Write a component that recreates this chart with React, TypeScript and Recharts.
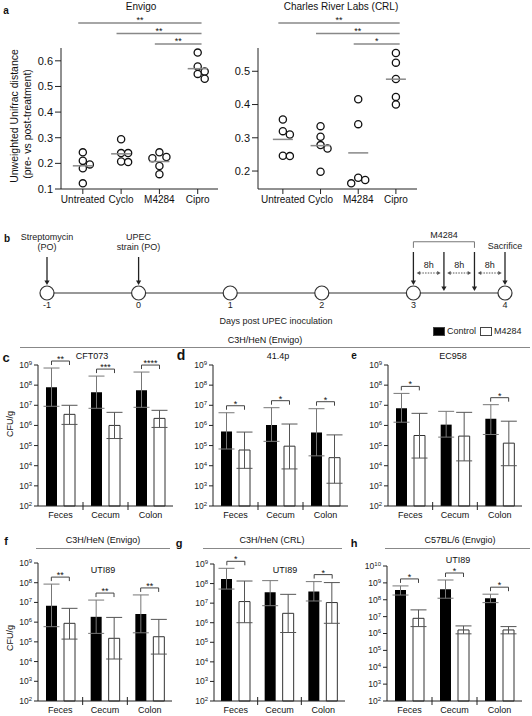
import React from "react";
import {
  ScatterChart, Scatter, XAxis, YAxis, ReferenceLine,
  ComposedChart, Bar, ErrorBar, Line, Legend,
} from "recharts";

const FONT = '"Liberation Sans", Arial, sans-serif';

// ---- a: unweighted Unifrac distance (pre vs post treatment), 5 mice per group
const treatments = ["Untreated", "Cyclo", "M4284", "Cipro"];
const envigoUntreated = [0.243, 0.21, 0.196, 0.181, 0.122];
const envigoCyclo = [0.294, 0.24, 0.24, 0.207, 0.205];
const envigoM4284 = [0.243, 0.225, 0.22, 0.19, 0.158];
const envigoCipro = [0.632, 0.578, 0.558, 0.549, 0.53];
const crlUntreated = [0.355, 0.32, 0.31, 0.246, 0.245];
const crlCyclo = [0.335, 0.303, 0.278, 0.268, 0.198];
const crlM4284 = [0.416, 0.341, 0.18, 0.173, 0.163];
const crlCipro = [0.555, 0.526, 0.477, 0.423, 0.4];
const envigoTicks = [0.1, 0.2, 0.3, 0.4, 0.5, 0.6];
const crlTicks = [0.2, 0.3, 0.4, 0.5];
// Untreated / Cyclo / M4284 vs Cipro
const envigoStars = ["**", "**", "**"];
const crlStars = ["**", "**", "*"];

// ---- b: timeline
const days = [-1, 0, 1, 2, 3, 4];
const doseDays = [3, 3 + 8 / 24, 3 + 16 / 24];
const sacrificeDay = 4;

// ---- c-h: log10 CFU/g, bar = mean, lo/hi = error bar ends
const sites = ["Feces", "Cecum", "Colon"];

const cftCtrl = [7.9, 7.65, 7.75];
const cftCtrlLo = [6.95, 6.85, 6.9];
const cftCtrlHi = [8.85, 8.45, 8.65];
const cftM = [6.55, 6.0, 6.35];
const cftMLo = [6.05, 5.35, 5.9];
const cftMHi = [7.0, 6.65, 6.75];
const cftSig = ["**", "***", "****"];

const p41Ctrl = [5.7, 6.02, 5.65];
const p41CtrlLo = [4.83, 5.21, 4.49];
const p41CtrlHi = [6.63, 6.88, 6.83];
const p41M = [4.78, 4.97, 4.4];
const p41MLo = [3.87, 3.84, 3.13];
const p41MHi = [5.67, 6.07, 5.53];
const p41Sig = ["*", "*", "*"];

const ecCtrl = [6.85, 6.04, 6.33];
const ecCtrlLo = [6.16, 5.42, 5.55];
const ecCtrlHi = [7.59, 6.7, 7.03];
const ecM = [5.5, 5.47, 5.12];
const ecMLo = [4.38, 4.24, 4.0];
const ecMHi = [6.6, 6.65, 6.21];
const ecSig = ["*", "", "*"];

const utiEnvCtrl = [6.83, 6.27, 6.41];
const utiEnvCtrlLo = [5.77, 5.43, 5.46];
const utiEnvCtrlHi = [7.93, 7.12, 7.38];
const utiEnvM = [5.94, 5.18, 5.26];
const utiEnvMLo = [5.14, 4.13, 4.38];
const utiEnvMHi = [6.7, 6.24, 6.14];
const utiEnvSig = ["**", "**", "**"];

const utiCrlCtrl = [8.23, 7.56, 7.59];
const utiCrlCtrlLo = [7.72, 6.87, 7.11];
const utiCrlCtrlHi = [8.78, 8.15, 8.1];
const utiCrlM = [7.08, 6.48, 7.03];
const utiCrlMLo = [6.0, 5.5, 5.97];
const utiCrlMHi = [8.13, 7.45, 8.05];
const utiCrlSig = ["*", "", "*"];

const utiB6Ctrl = [8.58, 8.62, 8.09];
const utiB6CtrlLo = [8.28, 8.09, 7.83];
const utiB6CtrlHi = [8.82, 9.17, 8.33];
const utiB6M = [6.9, 6.21, 6.21];
const utiB6MLo = [6.41, 5.98, 5.98];
const utiB6MHi = [7.4, 6.45, 6.41];
const utiB6Sig = ["*", "*", "*"];

// ---------- helpers
const Txt = ({ x, y, size = 9, bold = false, rotate = 0, children }: any) => (
  <div
    style={{
      position: "absolute", left: x, top: y, fontSize: size, lineHeight: 1,
      fontWeight: bold ? 700 : 400, whiteSpace: "nowrap", color: "#111",
      transform: `translate(-50%, -50%) rotate(${rotate}deg)`,
    }}
  >
    {children}
  </div>
);

const HLine = ({ x1, x2, y }: any) => (
  <div style={{ position: "absolute", left: x1, top: y, width: x2 - x1, height: 1, background: "#888" }} />
);

const mean = (v: number[]) => v.reduce((a, b) => a + b, 0) / v.length;

// simple beeswarm: push a point sideways when it would overlap one already placed
function swarm(values: number[], pxX: number, pxY: number) {
  const placed: { dx: number; v: number }[] = [];
  return values.map((v) => {
    for (const c of [0, 1, -1, 2, -2, 3]) {
      const dx = (c * 7) / pxX;
      const ok = placed.every((p) => Math.hypot((p.dx - dx) * pxX, (p.v - v) * pxY) >= 7);
      if (ok) {
        placed.push({ dx, v });
        return dx;
      }
    }
    return 0;
  });
}

const OpenDot = (p: any) => (
  <circle cx={p.cx} cy={p.cy} r={3.6} fill="#fff" stroke="#111" strokeWidth={1.3} />
);
const MeanBar = (p: any) => (
  <line x1={p.cx - 10} x2={p.cx + 10} y1={p.cy} y2={p.cy} stroke="#888" strokeWidth={1.5} />
);

function DotPanel({ left, width, marginLeft, groups, yDomain, yTicks, xDomain, stars }: any) {
  const height = 209;
  const plotW = width - marginLeft - 26 - 8;
  const plotH = height - 48 - 20;
  const pxX = plotW / (xDomain[1] - xDomain[0]);
  const pxY = plotH / (yDomain[1] - yDomain[0]);
  const points = groups.flatMap((vals: number[], g: number) =>
    swarm(vals, pxX, pxY).map((dx, i) => ({ x: g + 1 + dx, y: vals[i] }))
  );
  const means = groups.map((vals: number[], g: number) => ({ x: g + 1, y: mean(vals) }));
  return (
    <div style={{ position: "absolute", left, top: 0 }}>
      <ScatterChart width={width} height={height} margin={{ top: 48, right: 8, left: marginLeft, bottom: 0 }}>
        <XAxis
          type="number" dataKey="x" domain={xDomain} ticks={[1, 2, 3, 4]} interval={0}
          tickFormatter={(v: number) => treatments[v - 1]} height={20} tickSize={5} tickMargin={2}
          allowDataOverflow stroke="#222" tick={{ fontSize: 10, fill: "#111" }}
        />
        <YAxis
          type="number" dataKey="y" domain={yDomain} ticks={yTicks} interval={0}
          tickFormatter={(v: number) => v.toFixed(1)} width={26} tickSize={6} tickMargin={2}
          allowDataOverflow stroke="#222" tick={{ fontSize: 11, fill: "#111" }}
        />
        <Scatter data={points} shape={OpenDot} isAnimationActive={false} />
        <Scatter data={means} shape={MeanBar} isAnimationActive={false} />
        {stars.map((s: string, k: number) => {
          const y = yDomain[1] + (4 + (stars.length - 1 - k) * 10.5) / pxY;
          return (
            <ReferenceLine
              key={k}
              segment={[{ x: k + 1 - 0.12, y }, { x: 4.1, y }]}
              stroke="#888" strokeWidth={1.3} ifOverflow="visible"
              label={{ value: s, position: "top", offset: 0, fontSize: 9, fill: "#111" }}
            />
          );
        })}
      </ScatterChart>
    </div>
  );
}

// ---------- timeline
const timelineLine = days.map((d) => ({ day: d, y: 0 }));
const timelineEvents = [
  { day: -1, y: 0, text: ["Streptomycin", "(PO)"] },
  { day: 0, y: 0, text: ["UPEC", "strain (PO)"] },
  ...doseDays.map((d) => ({ day: d, y: 0, text: [] as string[] })),
  { day: sacrificeDay, y: 0, text: ["Sacrifice"] },
];
const marks = [...doseDays, sacrificeDay];
const intervals = marks.slice(1).map((d, i) => ({
  day: (d + marks[i]) / 2, y: 0, hours: Math.round((d - marks[i]) * 24),
}));

const NodeDot = (p: any) => (
  <circle key={p.index} cx={p.cx} cy={p.cy} r={7} fill="#fff" stroke="#333" strokeWidth={1.2} />
);

const ArrowMark = (p: any) => {
  const { cx, cy, payload } = p;
  const onNode = days.includes(payload.day);
  const tall = payload.text.length === 2;
  const top = cy - (tall ? 36 : 41);
  const end = cy - (onNode ? 8 : 2);
  return (
    <g>
      <line x1={cx} x2={cx} y1={top} y2={end - 4} stroke="#222" strokeWidth={1.3} />
      <path d={`M${cx - 2.6},${end - 4.5}L${cx + 2.6},${end - 4.5}L${cx},${end}Z`} fill="#222" />
      {payload.text.map((t: string, i: number) => (
        <text key={i} x={cx} y={tall ? top - 17 + i * 10 : top - 3} textAnchor="middle" fontSize={9} fill="#222">
          {t}
        </text>
      ))}
    </g>
  );
};

const IntervalMark = (p: any) => {
  const { cx, cy, payload } = p;
  const y = cy - 20;
  return (
    <g>
      <text x={cx} y={cy - 25} textAnchor="middle" fontSize={9} fill="#222">{`${payload.hours}h`}</text>
      <line x1={cx - 9} x2={cx + 9} y1={y} y2={y} stroke="#555" strokeDasharray="1.5 1.2" />
      <path d={`M${cx - 12},${y}l3.5,-2v4z M${cx + 12},${y}l-3.5,-2v4z`} fill="#555" />
    </g>
  );
};

function Timeline() {
  return (
    <div style={{ position: "absolute", left: 0, top: 225 }}>
      <ComposedChart width={532} height={112} data={timelineLine} margin={{ top: 7, right: 27, left: 47, bottom: 0 }}>
        <XAxis
          type="number" dataKey="day" domain={[-1, 4]} ticks={days} interval={0} height={44}
          axisLine={false} tickLine={false} tickMargin={3} tick={{ fontSize: 9, fill: "#222" }}
          label={{ value: "Days post UPEC inoculation", position: "insideBottom", offset: 13, fontSize: 9, fill: "#222" }}
        />
        <YAxis type="number" domain={[0, 1]} hide />
        <Line dataKey="y" stroke="#333" strokeWidth={1.2} dot={NodeDot} activeDot={false} isAnimationActive={false} />
        <Scatter data={timelineEvents} dataKey="y" shape={ArrowMark} isAnimationActive={false} />
        <Scatter data={intervals} dataKey="y" shape={IntervalMark} isAnimationActive={false} />
        <ReferenceLine
          segment={[{ x: doseDays[0], y: 0.84 }, { x: doseDays[2], y: 0.84 }]}
          stroke="#777" ifOverflow="visible"
          label={{ value: "M4284", position: "top", offset: 4, fontSize: 9, fill: "#222" }}
        />
        <ReferenceLine segment={[{ x: doseDays[0], y: 0.74 }, { x: doseDays[0], y: 0.84 }]} stroke="#777" ifOverflow="visible" />
        <ReferenceLine segment={[{ x: doseDays[2], y: 0.74 }, { x: doseDays[2], y: 0.84 }]} stroke="#777" ifOverflow="visible" />
      </ComposedChart>
    </div>
  );
}

// ---------- bar panels
function siteRows(ctrl: number[], ctrlLo: number[], ctrlHi: number[], m: number[], mLo: number[], mHi: number[], sig: string[]) {
  return sites.map((site, i) => ({
    site,
    control: ctrl[i],
    controlErr: [ctrl[i] - ctrlLo[i], ctrlHi[i] - ctrl[i]],
    m4284: m[i],
    m4284Err: [m[i] - mLo[i], mHi[i] - m[i]],
    sig: sig[i],
    sigAt: sig[i] ? Math.max(ctrlHi[i], mHi[i]) : null,
  }));
}

const PowerTick = (p: any) => (
  <text x={p.x} y={p.y} textAnchor="end" fontSize={8.5} fill="#222">
    <tspan dy="0.35em">10</tspan>
    <tspan dy="-0.5em" fontSize={6}>{p.payload.value}</tspan>
  </text>
);

const makeSiteTick = (band: number) => (p: any) => (
  <g>
    <text x={p.x} y={p.y + 12} textAnchor="middle" fontSize={9} fill="#111">{p.payload.value}</text>
    {p.index < 2 && <line x1={p.x + band / 2} x2={p.x + band / 2} y1={p.y - 4} y2={p.y + 4} stroke="#222" />}
  </g>
);

const SigBracket = (p: any) => {
  if (!p.payload || !p.payload.sig || !Number.isFinite(p.cy)) return <g />;
  const y = p.cy - 7;
  return (
    <g>
      <path d={`M${p.cx - 9},${y + 4}V${y}H${p.cx + 9}V${y + 4}`} fill="none" stroke="#444" strokeWidth={1} />
      <text x={p.cx} y={y + 1} textAnchor="middle" fontSize={9} fill="#111">{p.payload.sig}</text>
    </g>
  );
};

const LegendContent = (p: any) => (
  <div style={{ display: "flex", alignItems: "center", fontSize: 9, color: "#222", whiteSpace: "nowrap" }}>
    {(p.payload || [])
      .filter((e: any) => e.type !== "none")
      .map((e: any) => (
        <span key={e.value} style={{ display: "flex", alignItems: "center", marginRight: 4 }}>
          <span
            style={{
              display: "inline-block", width: 10, height: 7, marginRight: 2,
              background: e.payload?.fill ?? e.color, border: "1px solid #444",
            }}
          />
          {e.value}
        </span>
      ))}
  </div>
);

function BarPanel({ plot, maxExp = 9, rows, legend = false }: any) {
  const [x0, x1, y0, y1] = plot;
  const left = x0 - 38;
  const top = y0 - 15;
  const width = x1 - left + 7;
  const height = y1 - top + 19;
  const ticks = Array.from({ length: maxExp - 1 }, (_, i) => i + 2);
  return (
    <div style={{ position: "absolute", left, top }}>
      <ComposedChart
        width={width} height={height} data={rows} barSize={11} barGap={7}
        margin={{ top: 15, right: 7, left: 8, bottom: 0 }}
      >
        <XAxis
          dataKey="site" height={19} stroke="#222" tickLine={false} tickSize={0} tickMargin={0}
          interval={0} tick={makeSiteTick((x1 - x0) / 3)}
        />
        <YAxis
          type="number" domain={[2, maxExp]} ticks={ticks} interval={0}
          width={30} tickSize={4} tickMargin={2} stroke="#222" tick={PowerTick}
        />
        <Bar dataKey="control" name="Control" fill="#000" isAnimationActive={false}>
          <ErrorBar dataKey="controlErr" width={8} stroke="#777" strokeWidth={1} />
        </Bar>
        <Bar dataKey="m4284" name="M4284" fill="#fff" stroke="#333" strokeWidth={1} isAnimationActive={false}>
          <ErrorBar dataKey="m4284Err" width={8} stroke="#555" strokeWidth={1} />
        </Bar>
        <Scatter dataKey="sigAt" shape={SigBracket} legendType="none" isAnimationActive={false} />
        {legend && (
          <Legend
            layout="horizontal" verticalAlign="middle" align="center"
            wrapperStyle={{ top: -24, left: 83, width: 100 }}
            content={LegendContent}
          />
        )}
      </ComposedChart>
    </div>
  );
}

export default function App() {
  return (
    <div
      style={{
        position: "absolute", left: 0, top: 0, width: 532, height: 716,
        background: "#fff", overflow: "hidden", fontFamily: FONT, color: "#111",
      }}
    >
      {/* a */}
      <Txt x={6} y={11} size={10} bold>a</Txt>
      <Txt x={141} y={7} size={10}>Envigo</Txt>
      <Txt x={341} y={7} size={10}>Charles River Labs (CRL)</Txt>
      <Txt x={14} y={116} size={10.5} rotate={-90}>Unweighted Unifrac distance</Txt>
      <Txt x={27} y={124} size={10.5} rotate={-90}>(pre- vs post-treatment)</Txt>
      <DotPanel
        left={0} width={226} marginLeft={35}
        groups={[envigoUntreated, envigoCyclo, envigoM4284, envigoCipro]}
        yDomain={[0.1, 0.65]} yTicks={envigoTicks} xDomain={[0.43, 4.53]} stars={envigoStars}
      />
      <DotPanel
        left={232} width={193} marginLeft={0}
        groups={[crlUntreated, crlCyclo, crlM4284, crlCipro]}
        yDomain={[0.146, 0.57]} yTicks={crlTicks} xDomain={[0.34, 4.56]} stars={crlStars}
      />

      {/* b */}
      <Txt x={7} y={239} size={10} bold>b</Txt>
      <Timeline />

      {/* c-e */}
      <Txt x={265} y={340} size={9}>C3H/HeN (Envigo)</Txt>
      <HLine x1={20} x2={530} y={347} />
      <Txt x={6} y={357} size={13} bold>c</Txt>
      <Txt x={181} y={355} size={14} bold>d</Txt>
      <Txt x={354} y={356} size={10} bold>e</Txt>
      <Txt x={92} y={356} size={9}>CFT073</Txt>
      <Txt x={278} y={356} size={9}>41.4p</Txt>
      <Txt x={453} y={356} size={9}>EC958</Txt>
      <Txt x={10} y={424} size={9} rotate={-90}>CFU/g</Txt>
      <BarPanel plot={[38, 173, 365, 506]} rows={siteRows(cftCtrl, cftCtrlLo, cftCtrlHi, cftM, cftMLo, cftMHi, cftSig)} />
      <BarPanel plot={[213, 348, 365, 506]} rows={siteRows(p41Ctrl, p41CtrlLo, p41CtrlHi, p41M, p41MLo, p41MHi, p41Sig)} />
      <BarPanel plot={[388, 522, 365, 506]} rows={siteRows(ecCtrl, ecCtrlLo, ecCtrlHi, ecM, ecMLo, ecMHi, ecSig)} legend />

      {/* f-h */}
      <Txt x={6} y={541} size={11} bold>f</Txt>
      <Txt x={179} y={543} size={11} bold>g</Txt>
      <Txt x={354} y={543} size={11} bold>h</Txt>
      <Txt x={103} y={540} size={9}>C3H/HeN (Envigo)</Txt>
      <HLine x1={36} x2={170} y={548} />
      <Txt x={272} y={540} size={9}>C3H/HeN (CRL)</Txt>
      <HLine x1={203} x2={342} y={548} />
      <Txt x={460} y={540} size={9}>C57BL/6 (Envgio)</Txt>
      <HLine x1={385} x2={530} y={548} />
      <Txt x={103} y={570} size={9}>UTI89</Txt>
      <Txt x={285} y={570} size={9}>UTI89</Txt>
      <Txt x={458} y={560} size={9}>UTI89</Txt>
      <Txt x={10} y={638} size={9} rotate={-90}>CFU/g</Txt>
      <BarPanel plot={[38, 172, 563, 701]} rows={siteRows(utiEnvCtrl, utiEnvCtrlLo, utiEnvCtrlHi, utiEnvM, utiEnvMLo, utiEnvMHi, utiEnvSig)} />
      <BarPanel plot={[214, 345, 564, 701]} rows={siteRows(utiCrlCtrl, utiCrlCtrlLo, utiCrlCtrlHi, utiCrlM, utiCrlMLo, utiCrlMHi, utiCrlSig)} />
      <BarPanel plot={[387, 522, 566, 701]} maxExp={10} rows={siteRows(utiB6Ctrl, utiB6CtrlLo, utiB6CtrlHi, utiB6M, utiB6MLo, utiB6MHi, utiB6Sig)} />
    </div>
  );
}
